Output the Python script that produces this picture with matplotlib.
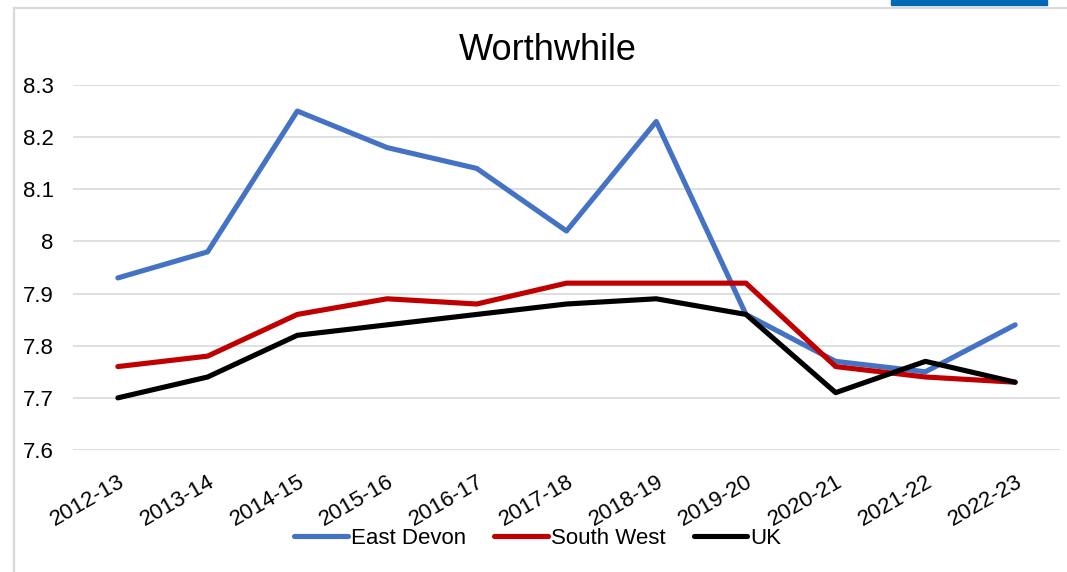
import matplotlib.pyplot as plt
from matplotlib.lines import Line2D
from matplotlib.patches import Rectangle

plt.rcParams['font.family'] = ['Liberation Sans', 'DejaVu Sans']

years = ["2012-13", "2013-14", "2014-15", "2015-16", "2016-17", "2017-18",
         "2018-19", "2019-20", "2020-21", "2021-22", "2022-23"]
east_devon = [7.93, 7.98, 8.25, 8.18, 8.14, 8.02, 8.23, 7.86, 7.77, 7.75, 7.84]
south_west = [7.76, 7.78, 7.86, 7.89, 7.88, 7.92, 7.92, 7.92, 7.76, 7.74, 7.73]
uk = [7.70, 7.74, 7.82, 7.84, 7.86, 7.88, 7.89, 7.86, 7.71, 7.77, 7.73]
yticks = [7.6, 7.7, 7.8, 7.9, 8.0, 8.1, 8.2, 8.3]
ytick_labels = ["7.6", "7.7", "7.8", "7.9", "8", "8.1", "8.2", "8.3"]

W, H = 1067, 572
fig = plt.figure(figsize=(W / 100, H / 100), dpi=100)

# outer frame (light grey) and the blue tab at the top
fig.add_artist(Line2D([14 / W, 14 / W], [0, 1 - 7.5 / H], color='#d9d9d9', lw=1.6))
fig.add_artist(Line2D([14 / W, 1], [1 - 7.5 / H, 1 - 7.5 / H], color='#d9d9d9', lw=1.6))
fig.add_artist(Rectangle((891 / W, 1 - 5 / H), 156 / W, 5 / H, color='#0068b4'))

ax = fig.add_axes([73 / W, 1 - 450 / H, (1060 - 73) / W, (450 - 85) / H])

x = list(range(len(years)))
ax.plot(x, east_devon, color='#4472c4', lw=3.7, solid_capstyle='round', solid_joinstyle='round', label='East Devon')
ax.plot(x, south_west, color='#c00000', lw=3.7, solid_capstyle='round', solid_joinstyle='round', label='South West')
ax.plot(x, uk, color='black', lw=3.7, solid_capstyle='round', solid_joinstyle='round', label='UK')

ax.set_xlim(-0.5, len(years) - 0.5)
ax.set_ylim(7.6, 8.3)
ax.set_yticks(yticks)
ax.set_yticklabels(ytick_labels)
ax.set_xticks(x)
ax.set_xticklabels(years, rotation=30, ha='right', rotation_mode='anchor')
ax.tick_params(axis='y', length=0, pad=14, labelsize=16)
ax.tick_params(axis='x', length=0, pad=15, labelsize=16)
ax.yaxis.grid(True, color='#d9d9d9', lw=1.2)
ax.set_axisbelow(True)
for s in ax.spines.values():
    s.set_visible(False)

fig.text((457 + 639) / 2 / W, 1 - 50 / H, "Worthwhile", ha='center', va='center', fontsize=26)

fig.legend(loc='center', bbox_to_anchor=(538 / W, 1 - 538 / H), ncol=3, frameon=False,
           fontsize=16, handlelength=2.4, handletextpad=0.15, columnspacing=1.27)

fig.savefig('out.png', dpi=100)
